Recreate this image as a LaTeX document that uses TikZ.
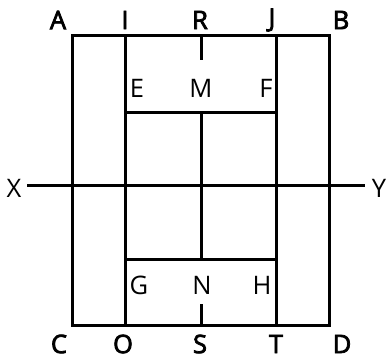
\documentclass[tikz,border=0pt]{standalone}
\usepackage{fontspec}
\setmainfont{Open Sans}
\newfontfamily\semibold[FakeBold=3]{Open Sans}
\begin{document}
\begin{tikzpicture}[x=1pt,y=-1pt,
  edge/.style={line width=3pt,line cap=rect},
  outlbl/.style={font=\semibold\fontsize{25.5}{25.5}\selectfont,inner sep=0pt,anchor=center},
  inlbl/.style={font=\fontsize{25.5}{25.5}\selectfont,inner sep=0pt,anchor=center}]
\useasboundingbox (0,0) rectangle (387,359);
% corners and points
\coordinate (pA) at (72,35);
\coordinate (pB) at (329,35);
\coordinate (pC) at (72,325);
\coordinate (pD) at (329,325);
\coordinate (pI) at (125,35);
\coordinate (pO) at (125,325);
\coordinate (pJ) at (276,35);
\coordinate (pT) at (276,325);
\coordinate (pR) at (201,35);
\coordinate (pR2) at (201,58);
\coordinate (pS) at (201,325);
\coordinate (pS2) at (201,305);
\coordinate (pE) at (125,112);
\coordinate (pF) at (276,112);
\coordinate (pM) at (201,112);
\coordinate (pG) at (125,259);
\coordinate (pH) at (276,259);
\coordinate (pN) at (201,259);
\coordinate (pX) at (27,185);
\coordinate (pY) at (365,185);
% lines
\draw[edge] (pA) rectangle (pD);
\draw[edge] (pI) -- (pO);
\draw[edge] (pJ) -- (pT);
\draw[edge] (pR) -- (pR2);
\draw[edge] (pS) -- (pS2);
\draw[edge] (pE) -- (pF);
\draw[edge] (pG) -- (pH);
\draw[edge] (pM) -- (pN);
\draw[edge,line cap=butt] (pX) -- (pY);
% labels
\node[outlbl] (A) at (58,20) {A};
\node[outlbl] (I) at (125,20) {I};
\node[outlbl] (R) at (200,20) {R};
\node[outlbl] (J) at (272,20) {J};
\node[outlbl] (B) at (341,20) {B};
\node[inlbl] (X) at (14,188) {X};
\node[inlbl] (Y) at (379,188) {Y};
\node[inlbl] (E) at (137,88) {E};
\node[inlbl] (M) at (201,88) {M};
\node[inlbl] (F) at (266,88) {F};
\node[inlbl] (G) at (139,285) {G};
\node[inlbl] (N) at (202,285) {N};
\node[inlbl] (H) at (262,285) {H};
\node[outlbl] (C) at (59,344) {C};
\node[outlbl] (O) at (123,344) {O};
\node[outlbl] (S) at (200,344) {S};
\node[outlbl] (T) at (276,344) {T};
\node[outlbl] (D) at (342,344) {D};
\end{tikzpicture}
\end{document}
